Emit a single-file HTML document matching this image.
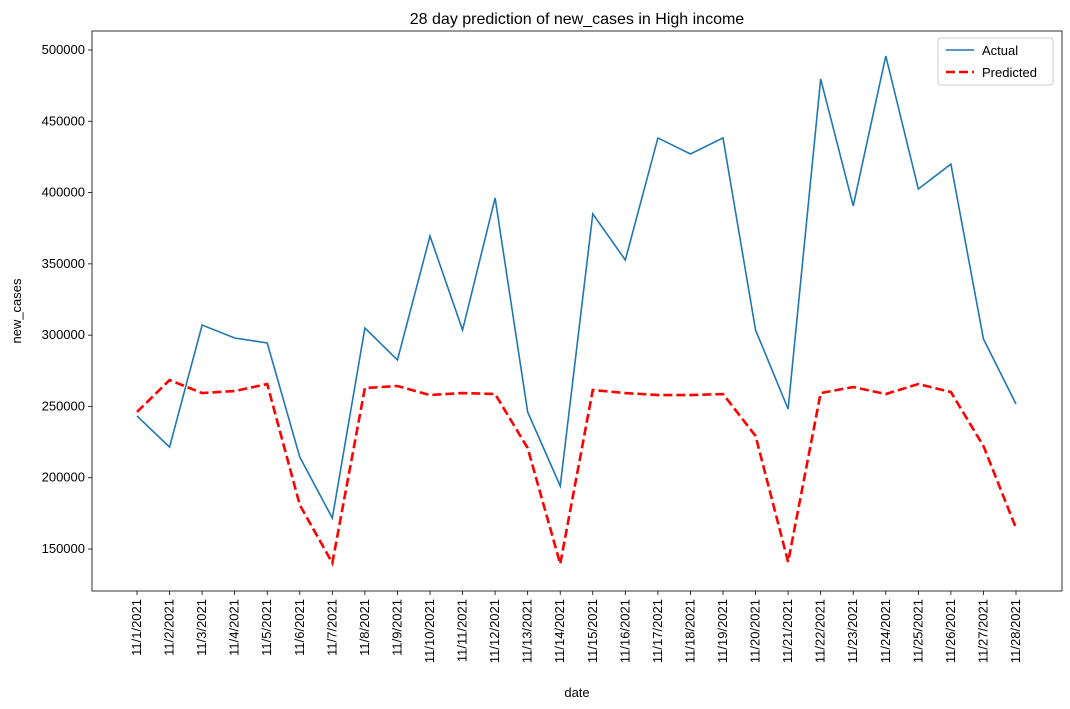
<!DOCTYPE html>
<html><head><meta charset="utf-8"><style>
body{margin:0;background:#fff;}
svg{display:block;font-family:"Liberation Sans","DejaVu Sans",sans-serif;}
</style></head><body>
<svg id="chart" width="1070" height="709"></svg>
<script>
const categories=["11/1/2021","11/2/2021","11/3/2021","11/4/2021","11/5/2021","11/6/2021","11/7/2021","11/8/2021","11/9/2021","11/10/2021","11/11/2021","11/12/2021","11/13/2021","11/14/2021","11/15/2021","11/16/2021","11/17/2021","11/18/2021","11/19/2021","11/20/2021","11/21/2021","11/22/2021","11/23/2021","11/24/2021","11/25/2021","11/26/2021","11/27/2021","11/28/2021"];
const actualValues=[243300,221500,307100,298000,294500,214500,171700,305000,282600,369500,303600,396200,246100,194200,385000,352700,438300,427100,438300,303600,248200,479700,390600,495800,402500,420000,297300,251700];
const predictedValues=[246100,268500,259400,260800,265700,180900,140200,262900,264300,258000,259400,258700,220800,139500,261500,259400,258000,258000,258700,229300,140900,259400,263600,258700,265700,260100,222200,164700];
const yTicks=[150000,200000,250000,300000,350000,400000,450000,500000];

const NS="http://www.w3.org/2000/svg";
const svg=document.getElementById('chart');
const L=92,R=1062,T=31,B=591;
const x=i=>137+i*(1016-137)/(categories.length-1);
const y=v=>549-(v-150000)*499/350000;
function mk(tag,attrs,parent){const e=document.createElementNS(NS,tag);for(const k in attrs)e.setAttribute(k,attrs[k]);(parent||svg).appendChild(e);return e;}

const frame=mk('rect',{x:L,y:T,width:R-L,height:B-T,fill:'none',stroke:'#000','stroke-width':0.8});



yTicks.forEach(v=>{
  const g=mk('g',{});
  
  
  mk('line',{x1:L-4,x2:L,y1:y(v),y2:y(v),stroke:'#000','stroke-width':0.8},g);
  const t=mk('text',{x:L-7,y:y(v)+4,'text-anchor':'end','font-size':13,fill:'#000'},g);
  t.textContent=v;
});
categories.forEach((c,i)=>{
  const g=mk('g',{});
  
  
  mk('line',{x1:x(i),x2:x(i),y1:B,y2:B+4,stroke:'#000','stroke-width':0.8},g);
  const t=mk('text',{x:0,y:0,'text-anchor':'end','font-size':13,fill:'#000',transform:`translate(${x(i)+4},${B+8}) rotate(-90)`},g);
  t.textContent=c;
});
const line=(vals,attrs,name)=>{
  const p=mk('polyline',Object.assign({points:vals.map((v,i)=>x(i)+','+y(v)).join(' '),fill:'none'},attrs));
  
  
};
line(actualValues,{stroke:'#1f77b4','stroke-width':1.6},'actual-line');
line(predictedValues,{stroke:'#ff0000','stroke-width':2.6,'stroke-dasharray':'9,4'},'predicted-line');

const title=mk('text',{x:577,y:24,'text-anchor':'middle','font-size':16,fill:'#000'});
title.textContent='28 day prediction of new_cases in High income';


const xl=mk('text',{x:577,y:697,'text-anchor':'middle','font-size':13,fill:'#000'});
xl.textContent='date';


const yl=mk('text',{x:0,y:0,'text-anchor':'middle','font-size':13,fill:'#000',transform:'translate(21,311) rotate(-90)'});
yl.textContent='new_cases';



const lg=mk('g',{});


mk('rect',{x:938,y:38,width:115,height:47,rx:3,fill:'#fff',stroke:'#ccc'},lg);
mk('line',{x1:946,x2:974,y1:50,y2:50,stroke:'#1f77b4','stroke-width':1.6},lg);
mk('line',{x1:946,x2:974,y1:72,y2:72,stroke:'#ff0000','stroke-width':2.6,'stroke-dasharray':'9,4'},lg);
const a=mk('text',{x:982,y:55,'font-size':13,fill:'#000'},lg);a.textContent='Actual';


const pr=mk('text',{x:982,y:77,'font-size':13,fill:'#000'},lg);pr.textContent='Predicted';


</script>
</body></html>
